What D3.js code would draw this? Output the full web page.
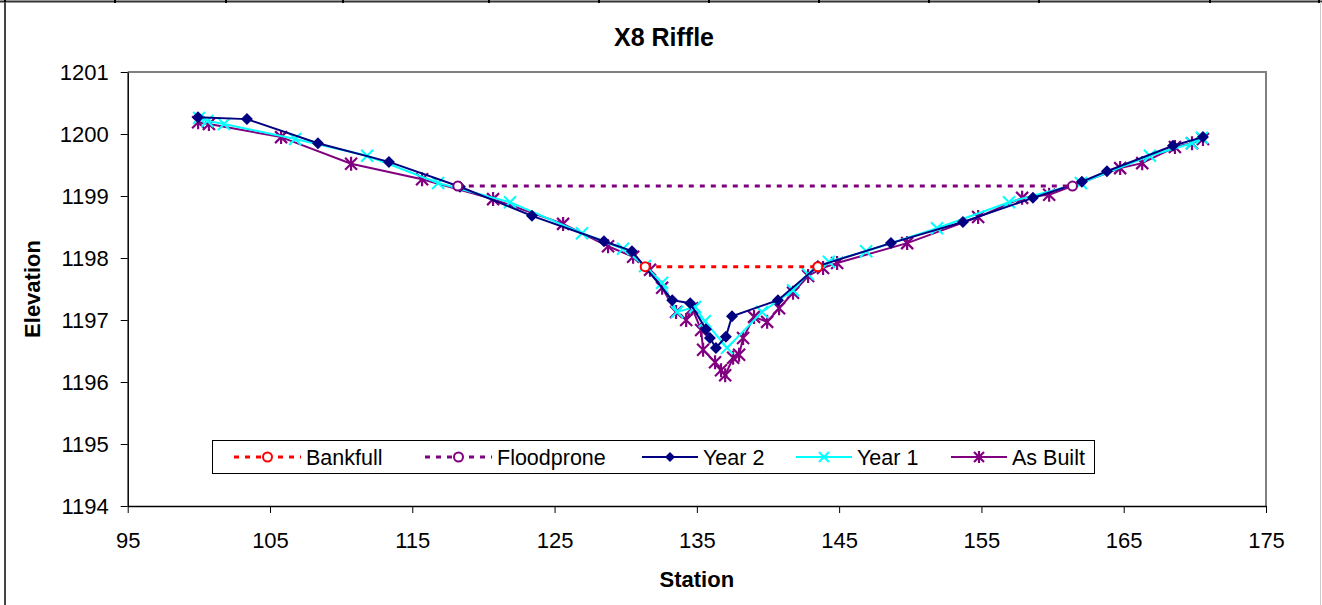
<!DOCTYPE html>
<html lang="en">
<head>
<meta charset="UTF-8">
<title>X8 Riffle</title>
<script src="https://d3js.org/d3.v7.min.js"></script>
<style>
  html, body { margin: 0; padding: 0; background: #fff; }
  svg { display: block; font-family: "Liberation Sans", Arial, sans-serif; }
</style>
</head>
<body>
<svg id="chart" width="1322" height="605"></svg>
<script>
// ---- data ----
var xTicks = [95, 105, 115, 125, 135, 145, 155, 165, 175];
var yTicks = [1194, 1195, 1196, 1197, 1198, 1199, 1200, 1201];

var bankfullStation = [131.37, 143.5];
var bankfullElev = [1197.86, 1197.86];

var floodStation = [118.2, 161.4];
var floodElev = [1199.16, 1199.16];

var year2Station = [99.94, 103.38, 108.37, 113.36, 118.35, 123.41, 128.47, 130.44, 133.27, 134.53,
  135.64, 135.92, 136.34, 137.04, 137.47, 140.7, 143.51, 148.64, 153.7, 158.62, 162.06, 163.82, 168.46, 170.57];
var year2Elev = [1200.27, 1200.24, 1199.85, 1199.55, 1199.15, 1198.68, 1198.27, 1198.11, 1197.32, 1197.27,
  1196.85, 1196.71, 1196.55, 1196.73, 1197.06, 1197.32, 1197.87, 1198.24, 1198.58, 1198.97, 1199.23, 1199.40, 1199.81, 1199.95];

var year1Station = [100.02, 100.6, 101.77, 106.77, 111.83, 116.82, 121.87, 126.93, 129.81, 131.36, 132.56, 133.61,
  134.88, 135.56, 137.12, 139.58, 141.76, 142.8, 144.28, 146.9, 151.88, 156.94, 161.99, 166.84, 169.79, 170.5];
var year1Elev = [1200.26, 1200.21, 1200.16, 1199.92, 1199.65, 1199.21, 1198.90, 1198.40, 1198.15, 1197.87, 1197.60, 1197.13,
  1197.21, 1196.98, 1196.55, 1197.13, 1197.48, 1197.74, 1197.94, 1198.11, 1198.48, 1198.90, 1199.21, 1199.65, 1199.85, 1199.94];

var builtStation = [99.95, 100.71, 105.78, 110.7, 115.69, 120.68, 125.6, 128.76, 130.52, 131.71, 132.56, 133.54,
  134.25, 134.67, 135.3, 135.44, 136.28, 136.7, 136.99, 137.55, 137.97, 138.25, 139.02, 139.94, 140.78, 141.76,
  142.82, 143.87, 144.86, 149.78, 154.77, 157.86, 159.76, 164.75, 166.3, 168.6, 169.8, 170.57];
var builtElev = [1200.19, 1200.16, 1199.95, 1199.52, 1199.27, 1198.95, 1198.55, 1198.19, 1198.02, 1197.81, 1197.52, 1197.13,
  1197.0, 1197.19, 1196.84, 1196.52, 1196.32, 1196.19, 1196.11, 1196.39, 1196.44, 1196.71, 1197.05, 1196.97, 1197.19, 1197.44,
  1197.71, 1197.84, 1197.92, 1198.24, 1198.66, 1198.97, 1199.02, 1199.45, 1199.53, 1199.79, 1199.85, 1199.92];

var seriesNames = ["Bankfull", "Floodprone", "Year 2", "Year 1", "As Built"];

// ---- layout ----
var svg = d3.select("#chart");
var plot = { left: 127.7, right: 1266, top: 72, bottom: 506 };

var x = d3.scaleLinear().domain([95, 175]).range([plot.left, plot.right]);
var y = d3.scaleLinear().domain([1194, 1201]).range([plot.bottom, plot.top]);

function zip(a, b) { return a.map(function (v, i) { return [v, b[i]]; }); }

var series = [
  { name: seriesNames[0], pts: zip(bankfullStation, bankfullElev), color: "#ff0000", dash: "5,6", width: 3, marker: "circle" },
  { name: seriesNames[1], pts: zip(floodStation, floodElev), color: "#800080", dash: "5,6", width: 3, marker: "circle" },
  { name: seriesNames[2], pts: zip(year2Station, year2Elev), color: "#000080", dash: null, width: 2, marker: "diamond" },
  { name: seriesNames[3], pts: zip(year1Station, year1Elev), color: "#00ffff", dash: null, width: 2, marker: "x" },
  { name: seriesNames[4], pts: zip(builtStation, builtElev), color: "#800080", dash: null, width: 2, marker: "star" }
];

// spreadsheet strip at the very top + chart frame
var colEdges = [5, 115, 226, 343, 489, 599, 709, 819, 929, 1039, 1210, 1319];
svg.append("line").attr("x1", 0).attr("x2", 1322).attr("y1", 1.5).attr("y2", 1.5)
  .attr("stroke", "#333").attr("stroke-width", 2);
colEdges.forEach(function (cx) {
  svg.append("line").attr("x1", cx).attr("x2", cx).attr("y1", 0).attr("y2", 3)
    .attr("stroke", "#000").attr("stroke-width", 2);
});
svg.append("line").attr("x1", 5).attr("x2", 5).attr("y1", 2).attr("y2", 605)
  .attr("stroke", "#444").attr("stroke-width", 2);
svg.append("line").attr("x1", 1320.5).attr("x2", 1320.5).attr("y1", 2).attr("y2", 605)
  .attr("stroke", "#ccc").attr("stroke-width", 1);

// plot frame (gray top/right)
svg.append("path")
  .attr("d", "M" + plot.left + "," + plot.top + "H" + plot.right + "V" + plot.bottom)
  .attr("fill", "none").attr("stroke", "#808080").attr("stroke-width", 2);

// axes
var xAxis = svg.append("g").attr("transform", "translate(0," + plot.bottom + ")")
  .call(d3.axisBottom(x).tickValues(xTicks).tickSize(7).tickSizeOuter(0).tickPadding(19));
var yAxis = svg.append("g").attr("transform", "translate(" + plot.left + ",0)")
  .call(d3.axisLeft(y).tickValues(yTicks).tickSize(7).tickSizeOuter(0).tickPadding(12).tickFormat(d3.format("d")));
[xAxis, yAxis].forEach(function (g) {
  g.attr("font-size", null).attr("font-family", null);
  g.select(".domain").attr("stroke", "#000").attr("stroke-width", 1.5);
  g.selectAll(".tick line").attr("stroke", "#000");
  g.selectAll("text").style("font-size", "22px").attr("fill", "#000")
    .style("font-family", "'Liberation Sans', Arial, sans-serif");
});

// markers
function drawMarker(g, kind, color, size) {
  var s = size / 2;
  if (kind === "circle") {
    g.append("circle").attr("r", 4.5).attr("fill", "#fff").attr("stroke", color).attr("stroke-width", 2);
  } else if (kind === "diamond") {
    g.append("path").attr("d", "M0," + (-s) + "L" + s + ",0L0," + s + "L" + (-s) + ",0Z").attr("fill", color);
  } else if (kind === "x") {
    g.append("path").attr("d", "M" + (-s) + "," + (-s) + "L" + s + "," + s + "M" + (-s) + "," + s + "L" + s + "," + (-s))
      .attr("stroke", color).attr("stroke-width", 2);
  } else if (kind === "star") {
    g.append("path").attr("d", "M" + (-s) + "," + (-s) + "L" + s + "," + s + "M" + (-s) + "," + s + "L" + s + "," + (-s) +
      "M0," + (-s - 1) + "L0," + (s + 1))
      .attr("stroke", color).attr("stroke-width", 2.2);
  }
}

var line = d3.line().x(function (d) { return x(d[0]); }).y(function (d) { return y(d[1]); });

// draw in reverse so Bankfull sits on top like the reference
series.slice().reverse().forEach(function (s) {
  var g = svg.append("g");
  g.append("path").datum(s.pts).attr("d", line)
    .attr("fill", "none").attr("stroke", s.color).attr("stroke-width", s.width)
    .attr("stroke-dasharray", s.dash);
  s.pts.forEach(function (p) {
    var m = g.append("g").attr("transform", "translate(" + x(p[0]) + "," + y(p[1]) + ")");
    drawMarker(m, s.marker, s.color, s.marker === "diamond" ? 12 : 12);
  });
});

// titles
svg.append("text").attr("x", 664).attr("y", 46).attr("text-anchor", "middle")
  .style("font-size", "25px").attr("font-weight", "bold").text("X8 Riffle");
svg.append("text").attr("x", (plot.left + plot.right) / 2).attr("y", 587).attr("text-anchor", "middle")
  .style("font-size", "22px").attr("font-weight", "bold").text("Station");
svg.append("text").attr("transform", "translate(40," + ((plot.top + plot.bottom) / 2) + ") rotate(-90)")
  .attr("text-anchor", "middle").style("font-size", "22px").attr("font-weight", "bold").text("Elevation");

// legend
var legend = svg.append("g").attr("transform", "translate(212,440)");
legend.append("rect").attr("x", 0.5).attr("y", 0.5).attr("width", 882).attr("height", 33)
  .attr("fill", "#fff").attr("stroke", "#000").attr("stroke-width", 1);
var legendX = [22, 213, 430, 584, 739];
series.forEach(function (s, i) {
  var len = s.dash ? 67 : 56;
  var item = legend.append("g").attr("transform", "translate(" + legendX[i] + ",17)");
  item.append("line").attr("x1", 0).attr("x2", len).attr("y1", 0).attr("y2", 0)
    .attr("stroke", s.color).attr("stroke-width", s.width).attr("stroke-dasharray", s.dash);
  var m = item.append("g").attr("transform", "translate(" + (len / 2) + ",0)");
  drawMarker(m, s.marker, s.color, 10);
  item.append("text").attr("x", len + 5).attr("y", 8).style("font-size", "21.5px").text(s.name);
});
</script>
</body>
</html>
